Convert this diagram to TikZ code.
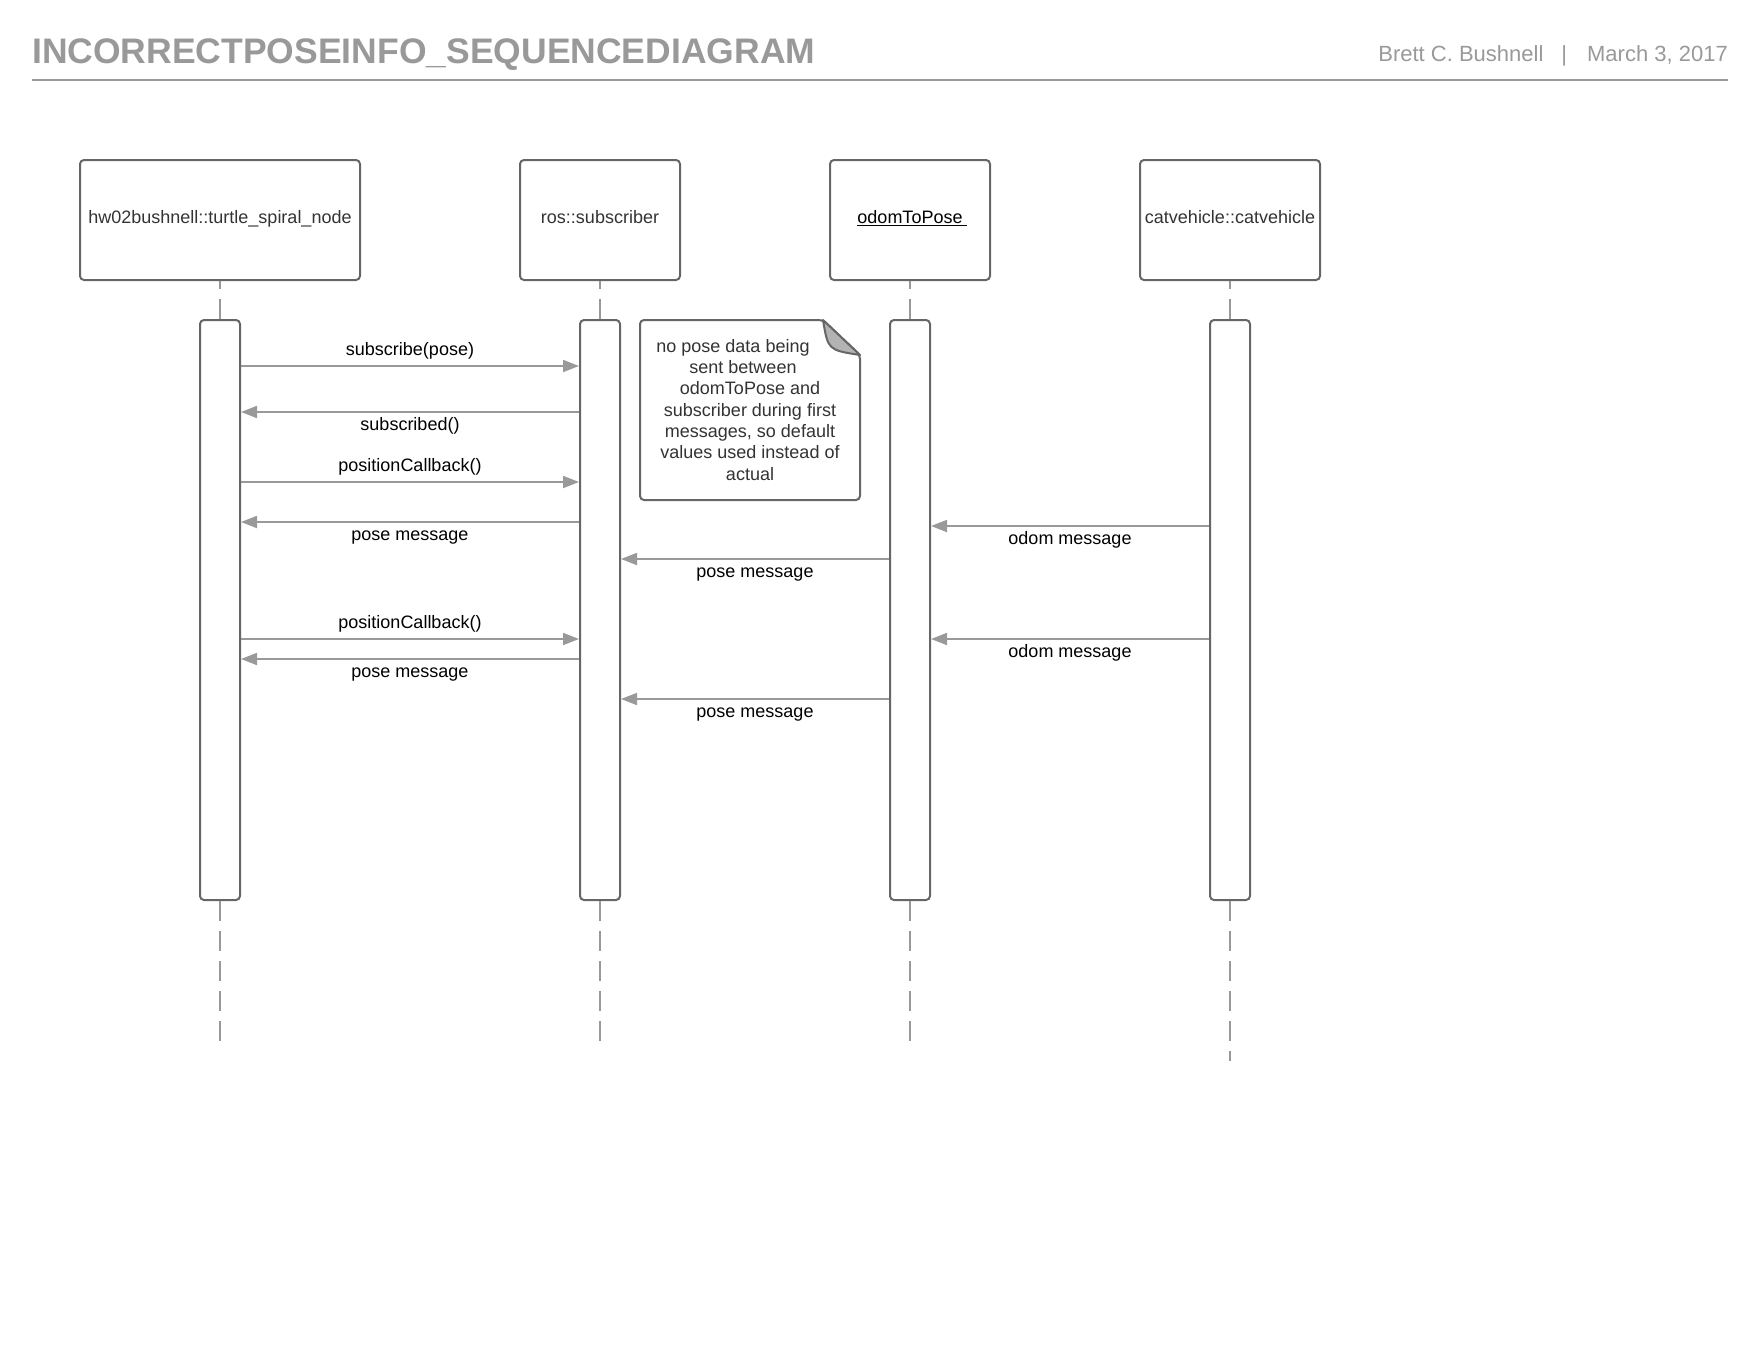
\documentclass[tikz,border=0pt]{standalone}
\usepackage{fontspec}
\setmainfont{Liberation Sans}
\usetikzlibrary{arrows.meta}
\definecolor{linegray}{HTML}{999999}
\definecolor{boxgray}{HTML}{666666}
\definecolor{textgray}{HTML}{333333}
\definecolor{foldgray}{HTML}{B3B3B3}
\newcommand{\ulname}[1]{\setbox0\hbox{#1}\rlap{\rule[-3pt]{\dimexpr\wd0+4pt\relax}{1.3pt}}\box0}

\begin{document}
\begin{tikzpicture}[x=1pt,y=-1pt,>={Triangle[length=16pt,width=12pt]},font=\fontsize{18}{21.33}\selectfont,
    lifebox/.style={draw=boxgray,line width=2pt,rounded corners=4pt,minimum width=#1,minimum height=120pt,
      inner sep=0pt,text=textgray,text height=13pt,text depth=7pt},
    actbar/.style={draw=boxgray,line width=2pt,rounded corners=4pt,fill=white,minimum width=40pt,minimum height=580pt,inner sep=0pt},
    lifeline/.style={draw=linegray,line width=1.5pt,dash pattern=on 20pt off 10pt},
    msg/.style={->,draw=linegray,line width=1.8pt},
    msgup/.style={midway,anchor=base,inner sep=0pt,yshift=11pt,text=black},
    msgdown/.style={midway,anchor=base,inner sep=0pt,yshift=-18pt,text=black}]
    \useasboundingbox (0,0) rectangle (1760,1360);
    % header
    \node[anchor=base west,inner sep=0pt,text=linegray,font=\fontsize{35.5}{40}\selectfont\bfseries] (title) at (32,63) {INCORRECTPOSEINFO\_SEQUENCEDIAGRAM};
    \node[anchor=base east,inner sep=0pt,text=linegray,font=\fontsize{22}{26}\selectfont] (author) at (1728,61) {Brett C. Bushnell\hspace{18pt}|\hspace{20pt}March 3, 2017};
    \draw[linegray,line width=2pt] (32,80)--(1728,80);
    % objects
    \node[lifebox=280pt] (spiral) at (220,220) {hw02bushnell::turtle\_spiral\_node};
    \node[lifebox=160pt] (sub) at (600,220) {ros::subscriber};
    \node[lifebox=160pt,text=black] (odom) at (910,220) {\ulname{odomToPose}};
    \node[lifebox=180pt] (cat) at (1230,220) {catvehicle::catvehicle};
    % activations
    \node[actbar] (bar1) at (220,610) {};
    \node[actbar] (bar2) at (600,610) {};
    \node[actbar] (bar3) at (910,610) {};
    \node[actbar] (bar4) at (1230,610) {};
    \draw[lifeline] (bar1.north)--(spiral.south);
    \draw[lifeline] (bar2.north)--(sub.south);
    \draw[lifeline] (bar3.north)--(odom.south);
    \draw[lifeline] (bar4.north)--(cat.south);
    \draw[lifeline] (bar1.south)--([yshift=-140pt]bar1.south);
    \draw[lifeline] (bar2.south)--([yshift=-140pt]bar2.south);
    \draw[lifeline] (bar3.south)--([yshift=-140pt]bar3.south);
    \draw[lifeline] (bar4.south)--([yshift=-160pt]bar4.south);
    % note
    \draw[boxgray,line width=2pt,rounded corners=4pt,fill=white] (640,320)--(823,320)--(860,355)--(860,500)--(640,500)--cycle;
    \draw[boxgray,line width=2pt,fill=foldgray,line join=round] (823,320) .. controls (828,350) .. (860,355)--cycle;
    \node[anchor=north,inner sep=0pt,align=center,text=textgray] (note) at (750,339) {no pose data being\rule{34pt}{0pt}\\sent between\rule{14pt}{0pt}\\odomToPose and\\subscriber during first\\messages, so default\\values used instead of\\actual};
    % messages
    \draw[msg] ([yshift=-47pt]bar1.north east)--node[msgup]{subscribe(pose)}([yshift=-47pt]bar2.north west);
    \draw[msg] ([yshift=-93pt]bar2.north west)--node[msgdown]{subscribed()}([yshift=-93pt]bar1.north east);
    \draw[msg] ([yshift=-163pt]bar1.north east)--node[msgup]{positionCallback()}([yshift=-163pt]bar2.north west);
    \draw[msg] ([yshift=-203pt]bar2.north west)--node[msgdown]{pose message}([yshift=-203pt]bar1.north east);
    \draw[msg] ([yshift=-207pt]bar4.north west)--node[msgdown]{odom message}([yshift=-207pt]bar3.north east);
    \draw[msg] ([yshift=-240pt]bar3.north west)--node[msgdown]{pose message}([yshift=-240pt]bar2.north east);
    \draw[msg] ([yshift=-320pt]bar1.north east)--node[msgup]{positionCallback()}([yshift=-320pt]bar2.north west);
    \draw[msg] ([yshift=-320pt]bar4.north west)--node[msgdown]{odom message}([yshift=-320pt]bar3.north east);
    \draw[msg] ([yshift=-340pt]bar2.north west)--node[msgdown]{pose message}([yshift=-340pt]bar1.north east);
    \draw[msg] ([yshift=-380pt]bar3.north west)--node[msgdown]{pose message}([yshift=-380pt]bar2.north east);
\end{tikzpicture}
\end{document}
